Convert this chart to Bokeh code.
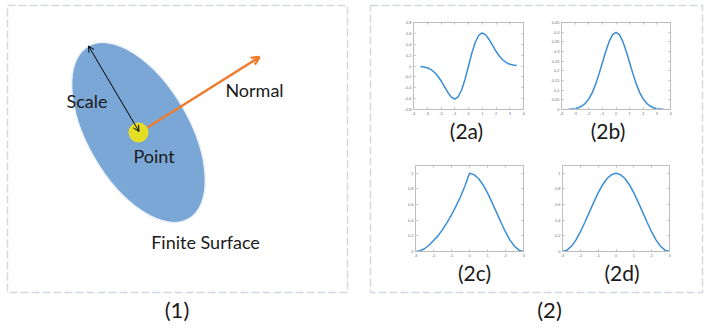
from bokeh.plotting import figure
from bokeh.models import (Range1d, LinearAxis, FixedTicker, Arrow, OpenHead, Label,
                          CustomJSTickFormatter)
from bokeh.embed import file_html
from bokeh.resources import INLINE

# ---------------- data ----------------
x_ab = [-3.5, -3.25, -3.0, -2.75, -2.5, -2.25, -2.0, -1.75, -1.5, -1.25, -1.0, -0.75, -0.5, -0.25,
        0.0, 0.25, 0.5, 0.75, 1.0, 1.25, 1.5, 1.75, 2.0, 2.25, 2.5, 2.75, 3.0, 3.25, 3.5]
y_2a = [-0.008, -0.017, -0.033, -0.063, -0.110, -0.179, -0.271, -0.379, -0.487, -0.572, -0.607,
        -0.566, -0.441, -0.242, 0.0, 0.242, 0.441, 0.566, 0.607, 0.572, 0.487, 0.379, 0.271,
        0.179, 0.110, 0.063, 0.033, 0.017, 0.008]
y_2b = [0.001, 0.002, 0.004, 0.009, 0.018, 0.032, 0.054, 0.086, 0.130, 0.183, 0.242, 0.301,
        0.352, 0.387, 0.399, 0.387, 0.352, 0.301, 0.242, 0.183, 0.130, 0.086, 0.054, 0.032,
        0.018, 0.009, 0.004, 0.002, 0.001]
x_cd = [-3.0, -2.75, -2.5, -2.25, -2.0, -1.75, -1.5, -1.25, -1.0, -0.75, -0.5, -0.25, 0.0,
        0.25, 0.5, 0.75, 1.0, 1.25, 1.5, 1.75, 2.0, 2.25, 2.5, 2.75, 3.0]
y_2c = [0.0, 0.01, 0.035, 0.08, 0.14, 0.20, 0.28, 0.37, 0.47, 0.58, 0.70, 0.84, 1.0,
        0.983, 0.933, 0.854, 0.75, 0.629, 0.5, 0.371, 0.25, 0.146, 0.067, 0.017, 0.0]
y_2d = [0.0, 0.017, 0.067, 0.146, 0.25, 0.371, 0.5, 0.629, 0.75, 0.854, 0.933, 0.983, 1.0,
        0.983, 0.933, 0.854, 0.75, 0.629, 0.5, 0.371, 0.25, 0.146, 0.067, 0.017, 0.0]

ticks_x4 = [-4, -3, -2, -1, 0, 1, 2, 3, 4]
labels_x4 = ["-4", "-3", "-2", "-1", "0", "1", "2", "3", "4"]
ticks_x3 = [-3, -2, -1, 0, 1, 2, 3]
labels_x3 = ["-3", "-2", "-1", "0", "1", "2", "3"]
ticks_ya = [-0.8, -0.6, -0.4, -0.2, 0.0, 0.2, 0.4, 0.6, 0.8]
labels_ya = ["-0.8", "-0.6", "-0.4", "-0.2", "0", "0.2", "0.4", "0.6", "0.8"]
ticks_yb = [0.0, 0.05, 0.1, 0.15, 0.2, 0.25, 0.3, 0.35, 0.4, 0.45]
labels_yb = ["0", "0.05", "0.1", "0.15", "0.2", "0.25", "0.3", "0.35", "0.4", "0.45"]
ticks_yc = [0.0, 0.2, 0.4, 0.6, 0.8, 1.0]
labels_yc = ["0", "0.2", "0.4", "0.6", "0.8", "1"]

panel_names = ["(2a)", "(2b)", "(2c)", "(2d)"]

# ---------------- figure (data units = page pixels, y measured up) ----------------
W, H = 705, 328
p = figure(width=W, height=H, x_range=Range1d(0, W), y_range=Range1d(0, H),
           output_backend="svg", toolbar_location=None,
           x_axis_location=None, y_axis_location=None, min_border=0,
           outline_line_color=None, background_fill_color="white")
p.grid.visible = False


def Y(py):
    return H - py


FONT = "Lato"
BOX_COLOR = "#D3D8DF"

# dashed panel frames
p.quad(left=[7, 370], right=[347, 702], top=[Y(5), Y(5)], bottom=[Y(292), Y(292)],
       fill_color=None, line_color=BOX_COLOR, line_width=1.5, line_dash="8 3")

# ---------------- panel (1) ----------------
cx, cy = 138, Y(132)
p.ellipse(x=[cx], y=[cy], width=[200], height=[102], angle=[-59.8], angle_units="deg",
          fill_color="#7BA7D6", line_color="#EEF3F9", line_width=1.5)
p.add_layout(Arrow(x_start=147, y_start=Y(127), x_end=259, y_end=Y(56.5),
                   line_color="#ED7D31", line_width=2.5,
                   end=OpenHead(size=8, line_color="#ED7D31", line_width=2.5)))
p.circle(x=[cx], y=[cy], radius=10, fill_color="#E4DE24", line_color=None)
p.add_layout(Arrow(x_start=138.5, y_start=Y(131), x_end=88, y_end=Y(45.5),
                   line_color="black", line_width=1,
                   start=OpenHead(size=6, line_color="black", line_width=1),
                   end=OpenHead(size=6, line_color="black", line_width=1)))

for txt, x, py, size in [("Scale", 86.5, 100, 18), ("Normal", 254, 89, 18),
                         ("Point", 153.5, 155, 18), ("Finite Surface", 205, 241, 18),
                         ("(1)", 176.5, 309, 22), ("(2)", 549, 309, 22)]:
    p.add_layout(Label(x=x, y=Y(py), text=txt, text_align="center",
                       text_baseline="alphabetic", text_font=FONT,
                       text_font_size=f"{size}px", text_color="#1a1a1a"))

# ---------------- panel (2): four small plots ----------------
panels = [
    dict(box=(413, 523, 22, 109), xl=(-4, 4), yl=(-0.8, 0.8), x=x_ab, y=y_2a,
         xt=ticks_x4, xlab=labels_x4, yt=ticks_ya, ylab=labels_ya, lab=(466, 130)),
    dict(box=(561, 670, 22, 109), xl=(-4, 4), yl=(0, 0.45), x=x_ab, y=y_2b,
         xt=ticks_x4, xlab=labels_x4, yt=ticks_yb, ylab=labels_yb, lab=(607.5, 130)),
    dict(box=(415, 523, 165, 251), xl=(-3, 3), yl=(0, 1.1), x=x_cd, y=y_2c,
         xt=ticks_x3, xlab=labels_x3, yt=ticks_yc, ylab=labels_yc, lab=(474, 272)),
    dict(box=(562, 669, 165, 251), xl=(-3, 3), yl=(0, 1.1), x=x_cd, y=y_2d,
         xt=ticks_x3, xlab=labels_x3, yt=ticks_yc, ylab=labels_yc, lab=(621.5, 272)),
]

ex, ey = {}, {}
for i, d in enumerate(panels):
    left, right, top, bottom = d["box"]
    x0, x1 = d["xl"]
    y0, y1 = d["yl"]
    sx = (x1 - x0) / (right - left)
    sy = (y1 - y0) / (bottom - top)
    ex[f"x{i}"] = Range1d(x0 + (0 - left) * sx, x0 + (W - left) * sx)
    ey[f"y{i}"] = Range1d(y0 + (bottom - H) * sy, y0 + (bottom - 0) * sy)
p.extra_x_ranges = ex
p.extra_y_ranges = ey

AX_COLOR = "#BDBDBD"
LBL_COLOR = "#6f6f6f"


def make_axis(i, ticks, labels, loc, bounds, show):
    ax = LinearAxis(x_range_name=f"x{i}", y_range_name=f"y{i}", fixed_location=loc,
                    bounds=bounds, ticker=FixedTicker(ticks=ticks, minor_ticks=[]),
                    formatter=CustomJSTickFormatter(args=dict(labels=labels),
                                                    code="return labels[index];"),
                    axis_line_color=AX_COLOR, axis_line_width=1,
                    major_tick_line_color=AX_COLOR,
                    major_tick_in=2, major_tick_out=0,
                    minor_tick_line_color=None,
                    major_label_text_font="Liberation Sans",
                    major_label_text_font_size="4px",
                    major_label_text_color=LBL_COLOR if show else None,
                    major_label_standoff=2)
    return ax


for i, d in enumerate(panels):
    x0, x1 = d["xl"]
    y0, y1 = d["yl"]
    p.add_layout(make_axis(i, d["xt"], d["xlab"], y0, (x0, x1), True), "below")
    p.add_layout(make_axis(i, d["xt"], d["xlab"], y1, (x0, x1), False), "above")
    p.add_layout(make_axis(i, d["yt"], d["ylab"], x0, (y0, y1), True), "left")
    p.add_layout(make_axis(i, d["yt"], d["ylab"], x1, (y0, y1), False), "right")
    p.line(d["x"], d["y"], x_range_name=f"x{i}", y_range_name=f"y{i}",
           line_color="#3C8DD4", line_width=1.5)
    lx, ly = d["lab"]
    p.add_layout(Label(x=lx, y=Y(ly), text=panel_names[i], text_align="center",
                       text_baseline="alphabetic", text_font=FONT,
                       text_font_size="21px", text_color="#1a1a1a"))

open("out.html", "w").write(file_html(p, INLINE))
